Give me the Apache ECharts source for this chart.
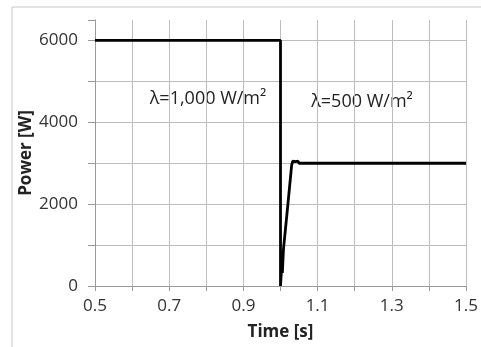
<!DOCTYPE html>
<html>
<head>
<meta charset="utf-8">
<script src="https://cdn.jsdelivr.net/npm/echarts@6/dist/echarts.min.js"></script>
<style>
  html, body { margin: 0; padding: 0; background: #fff; }
  #chart { width: 481px; height: 347px; }
</style>
</head>
<body>
<div id="chart"></div>
<script>
// time [s] and power [W]
const timeS = [0.5, 1.0, 1.0, 1.002, 1.003, 1.005, 1.008, 1.02, 1.03, 1.033, 1.04, 1.047, 1.05, 1.5]
const powerW = [6000, 6000, 0, 0, 450, 320, 900, 2000, 2950, 3050, 3040, 3050, 3000, 3000]
const xTicks = [0.5, 0.7, 0.9, 1.1, 1.3, 1.5]
const yTicks = [0, 2000, 4000, 6000]
const notes = ['λ=1,000 W/m²', 'λ=500 W/m²']

const font = '"Open Sans", sans-serif'
const chart = echarts.init(document.getElementById('chart'))

const lineData = timeS.map((t, i) => [t, powerW[i]])

// horizontal grid at every 1000, but not at the 6500 top edge
const hLineColors = ['#bdbdbd', '#bdbdbd', '#bdbdbd', '#bdbdbd', '#bdbdbd', '#bdbdbd', '#bdbdbd', 'rgba(0,0,0,0)']

chart.setOption({
  animation: false,
  backgroundColor: '#fff',
  grid: { left: 95, right: 15, top: 20, bottom: 61 },
  xAxis: {
    type: 'value',
    min: 0.5,
    max: 1.5,
    interval: 0.1,
    name: 'Time [s]',
    nameLocation: 'middle',
    nameGap: 38,
    nameTextStyle: { fontFamily: font, fontSize: 17, fontWeight: 'bold', color: '#222' },
    axisLine: { onZero: false, lineStyle: { color: '#9a9a9a', width: 1 } },
    axisTick: { show: true, length: 5, lineStyle: { color: '#9a9a9a' } },
    axisLabel: {
      margin: 12,
      fontFamily: font,
      fontSize: 17,
      color: '#333',
      formatter: v => {
        const r = Math.round(v * 10) / 10
        return xTicks.some(t => Math.abs(t - r) < 1e-6) ? r.toFixed(1) : ''
      }
    },
    splitLine: { show: true, lineStyle: { color: '#bdbdbd', width: 1 } }
  },
  yAxis: {
    type: 'value',
    min: 0,
    max: 6500,
    interval: 1000,
    name: 'Power [W]',
    nameLocation: 'middle',
    nameGap: 60,
    nameMoveOverlap: false,
    nameRotate: 90,
    nameTextStyle: { fontFamily: font, fontSize: 17, fontWeight: 'bold', color: '#222' },
    axisLine: { show: true, lineStyle: { color: '#9a9a9a', width: 1 } },
    axisTick: { show: true, length: 7, lineStyle: { color: '#9a9a9a' } },
    axisLabel: {
      margin: 17,
      fontFamily: font,
      fontSize: 17,
      color: '#333',
      formatter: v => (yTicks.indexOf(v) >= 0 ? String(v) : '')
    },
    splitLine: { show: true, lineStyle: { color: hLineColors, width: 1 } }
  },
  graphic: [
    {
      type: 'rect',
      shape: { x: 12, y: 7, width: 480, height: 360 },
      style: { fill: 'none', stroke: '#c8c8c8', lineWidth: 1 },
      silent: true
    },
    {
      type: 'text',
      x: 208, y: 99,
      style: { text: notes[0], fontFamily: font, fontSize: 18, fill: '#222', align: 'center', verticalAlign: 'middle' }
    },
    {
      type: 'text',
      x: 362, y: 102,
      style: { text: notes[1], fontFamily: font, fontSize: 18, fill: '#222', align: 'center', verticalAlign: 'middle' }
    }
  ],
  series: [
    {
      type: 'line',
      data: lineData,
      showSymbol: false,
      lineStyle: { color: '#000', width: 2.8 },
      z: 5
    }
  ]
})
</script>
</body>
</html>
